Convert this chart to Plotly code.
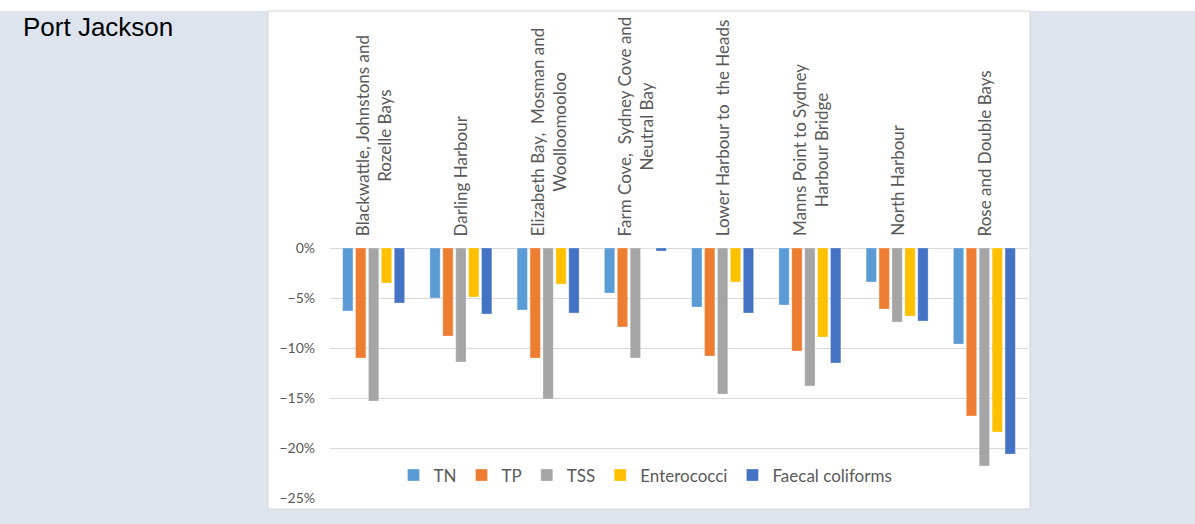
import plotly.graph_objects as go

regions = [
    "Blackwattle, Johnstons and<br>Rozelle Bays",
    "Darling Harbour",
    "Elizabeth Bay,  Mosman and<br>Woolloomooloo",
    "Farm Cove,  Sydney Cove and<br>Neutral Bay",
    "Lower Harbour to  the Heads",
    "Manns Point to Sydney<br>Harbour Bridge",
    "North Harbour",
    "Rose and Double Bays",
]

tn = [-6.3, -5.0, -6.2, -4.5, -5.9, -5.7, -3.4, -9.6]
tp = [-11.0, -8.8, -11.0, -7.9, -10.8, -10.3, -6.1, -16.8]
tss = [-15.3, -11.4, -15.1, -11.0, -14.6, -13.8, -7.4, -21.8]
entero = [-3.5, -4.9, -3.6, 0.0, -3.4, -8.9, -6.8, -18.4]
faecal = [-5.5, -6.6, -6.5, -0.3, -6.5, -11.5, -7.3, -20.6]

series = [
    ("TN", tn, "#5B9BD5"),
    ("TP", tp, "#ED7D31"),
    ("TSS", tss, "#A5A5A5"),
    ("Enterococci", entero, "#FFC000"),
    ("Faecal coliforms", faecal, "#4472C4"),
]

fig = go.Figure()
for name, vals, col in series:
    fig.add_trace(go.Bar(
        x=regions, y=vals, name=name,
        marker=dict(color=col, line=dict(color="rgba(255,255,255,0.5)", width=0.6)),
    ))

# rotated category labels above the zero line
for r in regions:
    fig.add_annotation(
        x=r, xref="x", y=1, yref="paper",
        text=r, textangle=-90, showarrow=False,
        xanchor="center", yanchor="bottom", yshift=10, align="center",
        font=dict(family="Lato, Open Sans, sans-serif", size=17, color="#595959"),
    )

fig.add_annotation(
    x=-0.443, xref="paper", y=1.884, yref="paper",
    text="Port Jackson", showarrow=False, xanchor="left", yanchor="middle",
    font=dict(family="Liberation Sans, Arial, sans-serif", size=26, color="#000000"),
)

# page strip and white chart box
fig.add_shape(type="rect", xref="paper", yref="paper", x0=-0.48, x1=1.25, y0=1.948, y1=2.0,
              fillcolor="white", line=dict(width=0), layer="below")
fig.add_shape(type="rect", xref="paper", yref="paper", x0=-0.0888, x1=1.0029, y0=-0.044, y1=1.948,
              fillcolor="white", line=dict(color="#D4D4D4", width=1), layer="below")

fig.update_layout(
    width=1195, height=524,
    margin=dict(l=330, r=167, t=248, b=26),
    paper_bgcolor="#DEE4ED",
    plot_bgcolor="white",
    barmode="group",
    bargap=0.26,
    bargroupgap=0.2,
    font=dict(family="Lato, Open Sans, sans-serif", color="#595959"),
    xaxis=dict(showticklabels=False, showgrid=False, showline=False, zeroline=False, ticks=""),
    yaxis=dict(
        range=[-25, 0], dtick=5, ticksuffix="%",
        showgrid=True, gridcolor="#D9D9D9", gridwidth=1,
        zeroline=True, zerolinecolor="#D9D9D9", zerolinewidth=1,
        showline=False, ticklabelstandoff=14,
        tickfont=dict(size=14, color="#595959"),
    ),
    legend=dict(
        orientation="h", x=0.452, xanchor="center", y=0.09, yanchor="middle",
        bgcolor="rgba(0,0,0,0)", font=dict(size=17, color="#595959"),
        traceorder="normal", itemwidth=30,
    ),
)

fig.write_html("out.html", config={"displayModeBar": False},
               post_script="document.body.style.margin='0';")
